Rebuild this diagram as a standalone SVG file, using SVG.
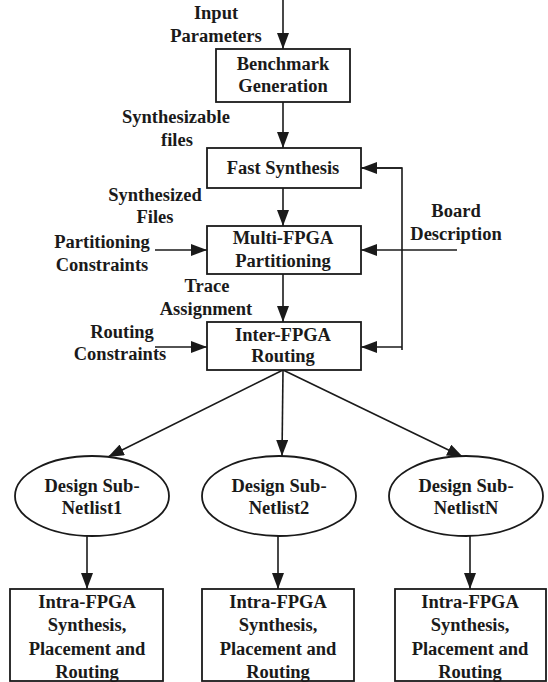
<svg xmlns="http://www.w3.org/2000/svg" width="548" height="682" viewBox="0 0 548 682">
<style>
text{font-family:"Liberation Serif","Times New Roman",serif;font-weight:bold;font-size:18.5px;fill:#1a1a1a;text-anchor:middle}
.box{fill:#fff;stroke:#1a1a1a;stroke-width:1.8}
.ln{stroke:#1a1a1a;stroke-width:1.6;fill:none;marker-end:url(#ah)}
.pl{stroke:#1a1a1a;stroke-width:1.6;fill:none}
</style>
<defs>
<marker id="ah" markerUnits="userSpaceOnUse" markerWidth="16" markerHeight="12" refX="16" refY="6" orient="auto">
<path d="M0,0 L16,6 L0,12 z" fill="#1a1a1a"/>
</marker>
</defs>
<rect width="548" height="682" fill="#fff"/>
<g id="connectors">
<line class="ln" x1="283" y1="0" x2="283" y2="49"/>
<line class="ln" x1="283" y1="102" x2="283" y2="148"/>
<line class="ln" x1="283" y1="188" x2="283" y2="226"/>
<line class="ln" x1="283" y1="274" x2="283" y2="322"/>
<line class="ln" x1="155" y1="250" x2="207" y2="250"/>
<line class="ln" x1="155" y1="347" x2="207" y2="347"/>
<line class="ln" x1="457" y1="250" x2="361" y2="250"/>
<polyline class="pl" points="361,168 402,168 402,350"/>
<line class="ln" x1="402" y1="168" x2="361" y2="168"/>
<line class="ln" x1="402" y1="347" x2="361" y2="347"/>
<line class="ln" x1="283" y1="370" x2="108" y2="457"/>
<line class="ln" x1="283" y1="370" x2="282" y2="456"/>
<line class="ln" x1="283" y1="370" x2="463" y2="457"/>
<line class="ln" x1="87" y1="536" x2="87" y2="589"/>
<line class="ln" x1="278" y1="536" x2="278" y2="589"/>
<line class="ln" x1="470" y1="536" x2="470" y2="589"/>
</g>
<g id="labels">
<text x="216" y="19">Input</text>
<text x="216" y="42">Parameters</text>
<text x="176" y="123">Synthesizable</text>
<text x="177" y="146">files</text>
<text x="155" y="201">Synthesized</text>
<text x="155" y="223">Files</text>
<text x="102" y="248">Partitioning</text>
<text x="102" y="271">Constraints</text>
<text x="207" y="292">Trace</text>
<text x="206" y="315">Assignment</text>
<text x="122" y="338">Routing</text>
<text x="120" y="360">Constraints</text>
<text x="456" y="217">Board</text>
<text x="456" y="240">Description</text>
</g>
<g id="benchmark">
<rect class="box" x="216" y="49" width="134" height="53"/>
<text x="283" y="70">Benchmark</text>
<text x="283" y="92">Generation</text>
</g>
<g id="fast-synthesis">
<rect class="box" x="207" y="148" width="154" height="40"/>
<text x="283" y="174">Fast Synthesis</text>
</g>
<g id="multi-fpga">
<rect class="box" x="207" y="226" width="154" height="48"/>
<text x="283" y="244">Multi-FPGA</text>
<text x="283" y="267">Partitioning</text>
</g>
<g id="inter-fpga">
<rect class="box" x="207" y="322" width="154" height="48"/>
<text x="283" y="341">Inter-FPGA</text>
<text x="283" y="362">Routing</text>
</g>
<g id="netlist1">
<ellipse class="box" cx="92" cy="496" rx="77" ry="40"/>
<text x="92" y="492">Design Sub-</text>
<text x="92" y="514">Netlist1</text>
</g>
<g id="netlist2">
<ellipse class="box" cx="279" cy="496" rx="77" ry="40"/>
<text x="279" y="492">Design Sub-</text>
<text x="279" y="514">Netlist2</text>
</g>
<g id="netlistN">
<ellipse class="box" cx="466" cy="496" rx="77" ry="40"/>
<text x="466" y="492">Design Sub-</text>
<text x="466" y="514">NetlistN</text>
</g>
<g id="intra1">
<rect class="box" x="10" y="589" width="153" height="92"/>
<text x="87" y="608">Intra-FPGA</text>
<text x="87" y="631">Synthesis,</text>
<text x="87" y="655">Placement and</text>
<text x="87" y="678">Routing</text>
</g>
<g id="intra2">
<rect class="box" x="202" y="589" width="152" height="92"/>
<text x="278" y="608">Intra-FPGA</text>
<text x="278" y="631">Synthesis,</text>
<text x="278" y="655">Placement and</text>
<text x="278" y="678">Routing</text>
</g>
<g id="intraN">
<rect class="box" x="395" y="589" width="151" height="92"/>
<text x="470" y="608">Intra-FPGA</text>
<text x="470" y="631">Synthesis,</text>
<text x="470" y="655">Placement and</text>
<text x="470" y="678">Routing</text>
</g>
</svg>
